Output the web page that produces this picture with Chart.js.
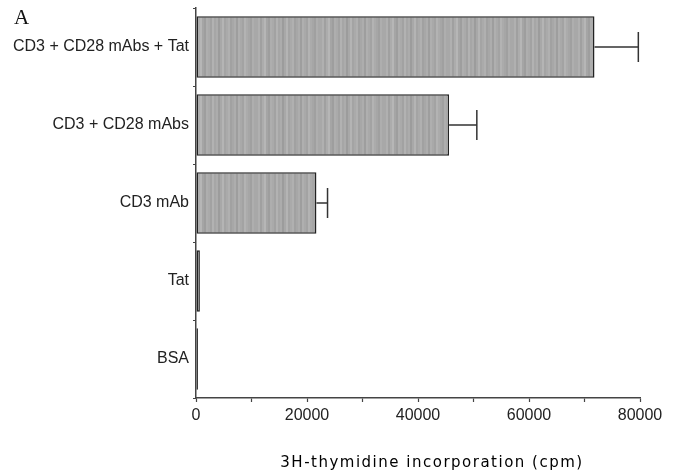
<!DOCTYPE html>
<html>
<head>
<meta charset="utf-8">
<script src="https://cdn.jsdelivr.net/npm/chart.js@4/dist/chart.umd.min.js"></script>
<style>
  body { margin: 0; background: #fff; }
  #wrap { width: 682px; height: 474px; }
</style>
</head>
<body>
<div id="wrap"><canvas id="chartA"></canvas></div>
<script>
'use strict'

// datos
let categorias = ['CD3 + CD28 mAbs + Tat', 'CD3 + CD28 mAbs', 'CD3 mAb', 'Tat', 'BSA'];
let valores = [71800, 45600, 21700, 700, 350];
let errores = [7900, 5000, 2000, 0, 0];
let ticksX = [0, 20000, 40000, 60000, 80000];
let tituloX = '3H-thymidine incorporation (cpm)';
let panel = 'A';

// textura gris de las barras (rayas verticales)
function texturaGris(){
    let grises = [168,176,160,172,182,165,158,174,170,162,178,166,172,156,168,180,
                  164,170,176,161,167,173,158,175,169,163,179,171,166,160,174,168];
    let c = document.createElement('canvas');
    c.width = grises.length * 2;
    c.height = 4;
    let g = c.getContext('2d');
    grises.forEach((v, i) => {
        g.fillStyle = 'rgb(' + v + ',' + v + ',' + v + ')';
        g.fillRect(i * 2, 0, 2, 4);
    });
    return g.createPattern(c, 'repeat');
}

// barras de error solo hacia la derecha
const barrasError = {
    id: 'barrasError',
    afterDatasetsDraw(chart){
        const ctx = chart.ctx;
        const x = chart.scales.x;
        const meta = chart.getDatasetMeta(0);
        ctx.save();
        ctx.strokeStyle = '#333';
        ctx.lineWidth = 1.5;
        errores.forEach((e, i) => {
            if (!e) return;
            let x0 = x.getPixelForValue(valores[i]);
            let x1 = x.getPixelForValue(valores[i] + e);
            let y = meta.data[i].y;
            ctx.beginPath();
            ctx.moveTo(x0, y);
            ctx.lineTo(x1, y);
            ctx.moveTo(x1, y - 15);
            ctx.lineTo(x1, y + 15);
            ctx.stroke();
        });
        ctx.restore();
    }
};

// letra del panel y titulo del eje x (espaciado ancho)
const textos = {
    id: 'textos',
    afterDraw(chart){
        const ctx = chart.ctx;
        const area = chart.chartArea;
        ctx.save();
        ctx.fillStyle = '#111';
        ctx.font = '21px "Liberation Serif"';
        ctx.textBaseline = 'alphabetic';
        ctx.textAlign = 'left';
        ctx.fillText(panel, 14, 24);

        ctx.fillStyle = '#000';
        ctx.font = '15px "DejaVu Sans"';
        ctx.letterSpacing = '1.5px';
        ctx.textAlign = 'center';
        ctx.fillText(tituloX, (area.left + area.right) / 2 + 14, 467);
        ctx.restore();
    }
};

const ctx = document.getElementById('chartA').getContext('2d');
const myChart = new Chart(ctx, {
    type: 'bar',
    data: {
        labels: categorias,
        datasets: [{
            data: valores,
            backgroundColor: texturaGris(),
            borderColor: '#222',
            borderWidth: 1.5,
            borderSkipped: false,
            categoryPercentage: 1,
            barPercentage: 0.79
        }]
    },
    options: {
        indexAxis: 'y',
        responsive: true,
        maintainAspectRatio: false,
        animation: false,
        layout: {
            padding: { top: 8, right: 42, left: 0, bottom: 0 }
        },
        plugins: {
            legend: { display: false },
            tooltip: { enabled: false }
        },
        scales: {
            x: {
                min: 0,
                max: 80000,
                ticks: {
                    stepSize: 10000,
                    color: '#222',
                    font: { family: '"Liberation Sans"', size: 16 },
                    padding: 4,
                    maxRotation: 0,
                    callback: function(v){ return ticksX.includes(v) ? String(v) : ''; }
                },
                grid: {
                    drawOnChartArea: false,
                    tickLength: 4,
                    color: '#444',
                    tickWidth: 1.2
                },
                border: { color: '#444', width: 1.5 },
                afterFit: function(s){
                    s.height = 76;
                    s.paddingLeft = 0;
                    s.paddingRight = 0;
                }
            },
            y: {
                ticks: {
                    color: '#222',
                    font: { family: '"Liberation Sans"', size: 16 },
                    padding: 4
                },
                grid: {
                    offset: true,
                    drawOnChartArea: false,
                    tickLength: 3,
                    color: '#444'
                },
                border: { color: '#444', width: 1.5 },
                afterFit: function(s){
                    s.width = 196;
                    s.paddingTop = 0;
                    s.paddingBottom = 0;
                }
            }
        }
    },
    plugins: [barrasError, textos]
});
</script>
</body>
</html>
